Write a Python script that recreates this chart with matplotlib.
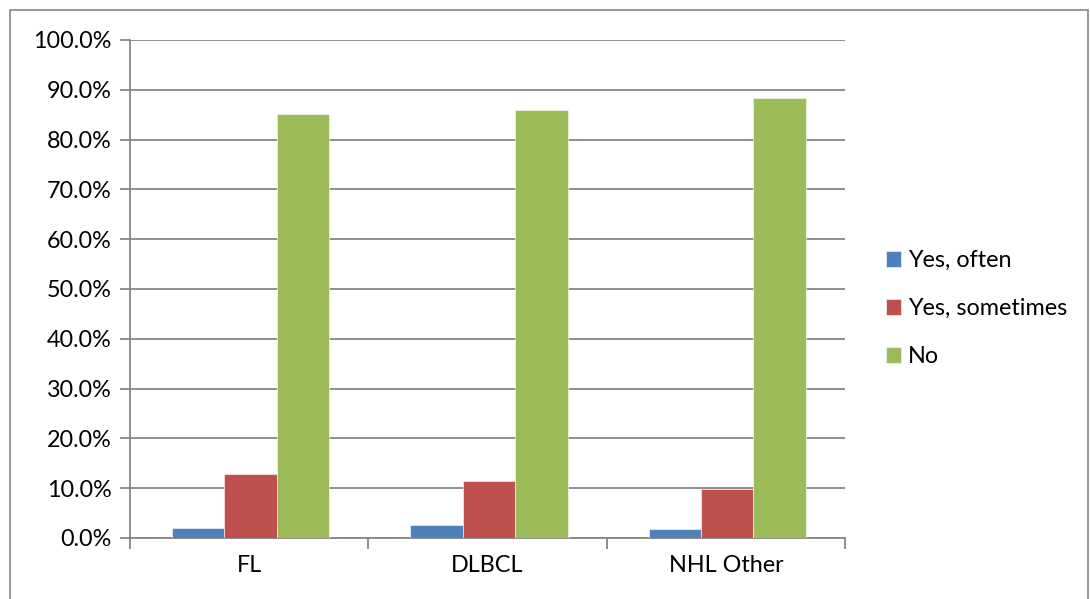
import matplotlib
matplotlib.use("Agg")
import matplotlib.pyplot as plt
import numpy as np
from matplotlib.patches import Rectangle

categories = ["FL", "DLBCL", "NHL Other"]
series_names = ["Yes, often", "Yes, sometimes", "No"]
yes_often = [2.0, 2.7, 1.9]
yes_sometimes = [12.85, 11.4, 9.8]
no_vals = [85.15, 86.0, 88.4]
colors = ["#4F81BD", "#C0504D", "#9BBB59"]
yticks = list(range(0, 101, 10))

plt.rcParams['font.family'] = ['Lato', 'DejaVu Sans']
FS = 16.8

fig = plt.figure(figsize=(10.9, 5.99), dpi=100)
W, H = 1090, 599
ax = fig.add_axes([130 / W, 1 - 538 / H, (845 - 130) / W, (538 - 40) / H])

# outer border
fig.patches.append(Rectangle((10 / W, -0.01), (1088 - 10) / W, 1 - 9.5 / H + 0.01,
                             transform=fig.transFigure, fill=False,
                             edgecolor="#868686", linewidth=1.2))

x = np.arange(len(categories))
bw = 0.22
data = [yes_often, yes_sometimes, no_vals]
for i, (vals, name, c) in enumerate(zip(data, series_names, colors)):
    ax.bar(x + (i - 1) * bw + 0.006, vals, width=bw, color=c, label=name, zorder=3,
           edgecolor="white", linewidth=0.4)

ax.set_xlim(-0.5, len(categories) - 0.5)
ax.set_ylim(0, 100)
ax.set_yticks(yticks)
ax.set_yticklabels([f"{v:.1f}%" for v in yticks], fontsize=FS)
ax.yaxis.grid(True, color="#868686", linewidth=1.3, zorder=0)
ax.set_axisbelow(True)

ax.set_xticks(x)
ax.set_xticklabels(categories, fontsize=FS)
ax.tick_params(axis='x', length=0, pad=12)
ax.set_xticks(np.arange(-0.5, len(categories), 1.0), minor=True)
ax.tick_params(axis='x', which='minor', length=8, color="#868686", width=1.3)
ax.tick_params(axis='y', length=7, color="#868686", width=1.3, pad=6)

for s in ["top", "right"]:
    ax.spines[s].set_visible(False)
for s in ["left", "bottom"]:
    ax.spines[s].set_color("#868686")
    ax.spines[s].set_linewidth(1.3)

leg = fig.legend(loc="upper left", bbox_to_anchor=(886 / W, 1 - 250 / H),
                 frameon=False, fontsize=FS, handlelength=0.64, handleheight=0.64,
                 handletextpad=0.3, labelspacing=1.16, borderaxespad=0,
                 borderpad=0)

fig.savefig("out.png", dpi=100)
